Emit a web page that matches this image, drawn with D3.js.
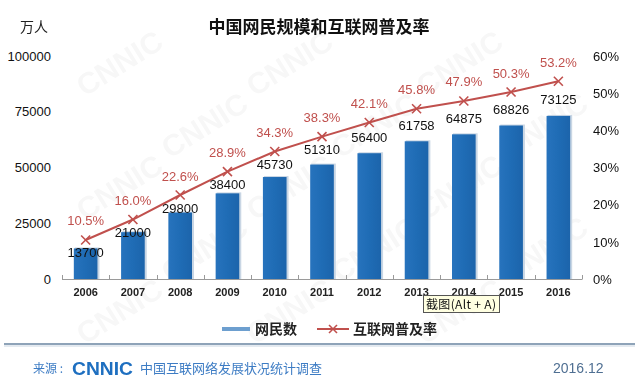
<!DOCTYPE html>
<html>
<head>
<meta charset="utf-8">
<script src="https://cdn.jsdelivr.net/npm/d3@7"></script>
<style>
  body { margin: 0; background: #fff; }
  svg { display: block; }
  text { font-family: "Liberation Sans", Arial, "Noto Sans CJK SC", sans-serif; }
  .cjk { font-family: "Noto Sans CJK SC", "Liberation Sans", sans-serif; }
</style>
</head>
<body>
<svg id="chart" width="635" height="386"></svg>
<script>
// data
var years = ["2006","2007","2008","2009","2010","2011","2012","2013","2014","2015","2016"];
var netizens = [13700, 21000, 29800, 38400, 45730, 51310, 56400, 61758, 64875, 68826, 73125];
var rate = [10.5, 16.0, 22.6, 28.9, 34.3, 38.3, 42.1, 45.8, 47.9, 50.3, 53.2];
var leftTicks = [0, 25000, 50000, 75000, 100000];
var rightTicks = [0, 10, 20, 30, 40, 50, 60];

var svg = d3.select("#chart");

// faint watermark, only copies that fit fully inside
var wm = svg.append("g").attr("fill", "#000").attr("opacity", 0.035);
for (var r = 0; r < 7; r++) {
  for (var c = 0; c < 5; c++) {
    var wx = 40 + c * 170 + (r % 2) * 85, wy = 10 + r * 62;
    var t = wm.append("text")
      .attr("transform", "translate(" + wx + "," + wy + ") rotate(-32)")
      .attr("font-size", 30).attr("font-weight", "bold")
      .attr("text-anchor", "middle")
      .text("CNNIC");
    var b = t.node().getBoundingClientRect();
    if (b.left < 0 || b.top < 0 || b.right > 635 || b.bottom > 386) t.remove();
  }
}

var x = d3.scaleBand().domain(years).range([62, 582]).paddingInner(0.5).paddingOuter(0.25);
var y = d3.scaleLinear().domain([0, 100000]).range([279, 56]);
var y2 = d3.scaleLinear().domain([0, 60]).range([279, 56]);
var step = x.step(), bw = x.bandwidth();

// title
svg.append("text").attr("class", "cjk")
  .attr("x", 319).attr("y", 33).attr("text-anchor", "middle")
  .attr("font-size", 17).attr("font-weight", "bold").attr("fill", "#111")
  .text("中国网民规模和互联网普及率");
svg.append("text").attr("class", "cjk")
  .attr("x", 20).attr("y", 32).attr("font-size", 14).attr("fill", "#222")
  .text("万人");

// left axis
var gl = svg.append("g").attr("transform", "translate(54,0)")
  .call(d3.axisLeft(y).tickValues(leftTicks).tickSize(0).tickPadding(3).tickFormat(d3.format("d")));
gl.select(".domain").remove();
gl.selectAll("text").attr("font-size", 13).attr("fill", "#111")
  .style("font-family", "Liberation Sans, Arial, sans-serif");

// right axis
var gr = svg.append("g").attr("transform", "translate(590,0)")
  .call(d3.axisRight(y2).tickValues(rightTicks).tickSize(0).tickPadding(3).tickFormat(function(d) { return d + "%"; }));
gr.select(".domain").remove();
gr.selectAll("text").attr("font-size", 13).attr("fill", "#111")
  .style("font-family", "Liberation Sans, Arial, sans-serif");

// bars
var grad = svg.append("defs").append("linearGradient").attr("id", "barg")
  .attr("x1", 0).attr("x2", 1).attr("y1", 0).attr("y2", 0);
grad.append("stop").attr("offset", "0%").attr("stop-color", "#2773bd");
grad.append("stop").attr("offset", "50%").attr("stop-color", "#1f6cb5");
grad.append("stop").attr("offset", "100%").attr("stop-color", "#1c64ab");

svg.append("g").selectAll("rect.shadow").data(years).enter().append("rect")
  .attr("x", function(d) { return x(d) + 1; })
  .attr("y", function(d, i) { return y(netizens[i]) - 1; })
  .attr("width", bw + 1)
  .attr("height", function(d, i) { return y(0) - y(netizens[i]) + 1; })
  .attr("fill", "#c9d6e4");
svg.append("g").selectAll("rect.bar").data(years).enter().append("rect")
  .attr("x", function(d) { return x(d); })
  .attr("y", function(d, i) { return y(netizens[i]); })
  .attr("width", bw)
  .attr("height", function(d, i) { return y(0) - y(netizens[i]); })
  .attr("fill", "url(#barg)");

// x axis with boundary ticks
var xa = svg.append("g").attr("stroke", "#9a9a9a").attr("stroke-width", 1);
xa.append("line").attr("x1", x.range()[0]).attr("x2", x.range()[1])
  .attr("y1", y(0) + 0.5).attr("y2", y(0) + 0.5);
var bounds = years.map(function(d) { return x(d) - (step - bw) / 2; }).concat([x.range()[1]]);
xa.selectAll("line.tk").data(bounds).enter().append("line")
  .attr("x1", function(d) { return Math.round(d) + 0.5; })
  .attr("x2", function(d) { return Math.round(d) + 0.5; })
  .attr("y1", y(0) - 4).attr("y2", y(0) + 0.5);
svg.append("g").selectAll("text").data(years).enter().append("text")
  .attr("x", function(d) { return x(d) + bw / 2; })
  .attr("y", 296).attr("text-anchor", "middle")
  .attr("font-size", 11).attr("font-weight", "bold").attr("fill", "#222")
  .text(function(d) { return d; });

// line
var lineColor = "#c0504d";
var line = d3.line()
  .x(function(d, i) { return x(years[i]) + bw / 2; })
  .y(function(d) { return y2(d); });
svg.append("path").datum(rate).attr("d", line)
  .attr("fill", "none").attr("stroke", lineColor).attr("stroke-width", 2);
var mk = svg.append("g").attr("stroke", lineColor).attr("stroke-width", 1.6);
rate.forEach(function(v, i) {
  var cx = x(years[i]) + bw / 2, cy = y2(v), s = 4.5;
  mk.append("line").attr("x1", cx - s).attr("y1", cy - s).attr("x2", cx + s).attr("y2", cy + s);
  mk.append("line").attr("x1", cx - s).attr("y1", cy + s).attr("x2", cx + s).attr("y2", cy - s);
});

// percentage labels
svg.append("g").selectAll("text").data(rate).enter().append("text")
  .attr("x", function(d, i) { return x(years[i]) + bw / 2; })
  .attr("y", function(d) { return y2(d) - 19 + 4.5; })
  .attr("text-anchor", "middle").attr("font-size", 13).attr("fill", lineColor)
  .text(function(d) { return d.toFixed(1) + "%"; });

// value labels, kept clear of the line
svg.append("g").selectAll("text").data(netizens).enter().append("text")
  .attr("x", function(d, i) { return x(years[i]) + bw / 2; })
  .attr("y", function(d, i) { return Math.max(y(d) - 16, y2(rate[i]) + 13) + 4.5; })
  .attr("text-anchor", "middle").attr("font-size", 13).attr("fill", "#111")
  .text(function(d) { return d; });

// screenshot tooltip
svg.append("rect").attr("x", 423.5).attr("y", 295.5).attr("width", 76).attr("height", 17)
  .attr("fill", "#ffffe1").attr("stroke", "#555");
svg.append("text").attr("class", "cjk").attr("x", 426).attr("y", 308.5)
  .attr("font-size", 12).attr("fill", "#111")
  .attr("textLength", 70).attr("lengthAdjust", "spacing").text("截图(Alt + A)");

// legend
svg.append("line").attr("x1", 222).attr("x2", 250).attr("y1", 329).attr("y2", 329)
  .attr("stroke", "#6d9fcf").attr("stroke-width", 4);
svg.append("text").attr("class", "cjk").attr("x", 255).attr("y", 334)
  .attr("font-size", 14).attr("font-weight", "bold").attr("fill", "#222").text("网民数");
svg.append("line").attr("x1", 317).attr("x2", 349).attr("y1", 329).attr("y2", 329)
  .attr("stroke", lineColor).attr("stroke-width", 2);
mk.append("line").attr("x1", 329).attr("y1", 325).attr("x2", 337).attr("y2", 333);
mk.append("line").attr("x1", 329).attr("y1", 333).attr("x2", 337).attr("y2", 325);
svg.append("text").attr("class", "cjk").attr("x", 353).attr("y", 334)
  .attr("font-size", 14).attr("font-weight", "bold").attr("fill", "#222").text("互联网普及率");

// footer
svg.append("line").attr("x1", 4).attr("x2", 635).attr("y1", 344).attr("y2", 344)
  .attr("stroke", "#8ea3b8").attr("stroke-width", 2);
svg.append("line").attr("x1", 4).attr("x2", 635).attr("y1", 346).attr("y2", 346)
  .attr("stroke", "#e4eaf0").attr("stroke-width", 2);
svg.append("text").attr("class", "cjk").attr("x", 33).attr("y", 373)
  .attr("font-size", 12).attr("fill", "#3d7cc4").text("来源 :");
svg.append("text").attr("x", 72).attr("y", 374.5)
  .attr("font-size", 19).attr("font-weight", "bold").attr("fill", "#1e6fc0")
  .attr("textLength", 61).attr("lengthAdjust", "spacingAndGlyphs").text("CNNIC");
svg.append("text").attr("class", "cjk").attr("x", 140).attr("y", 373)
  .attr("font-size", 13).attr("fill", "#3d7cc4").text("中国互联网络发展状况统计调查");
svg.append("text").attr("x", 553).attr("y", 373)
  .attr("font-size", 14).attr("fill", "#4f6f92").text("2016.12");
</script>
</body>
</html>
